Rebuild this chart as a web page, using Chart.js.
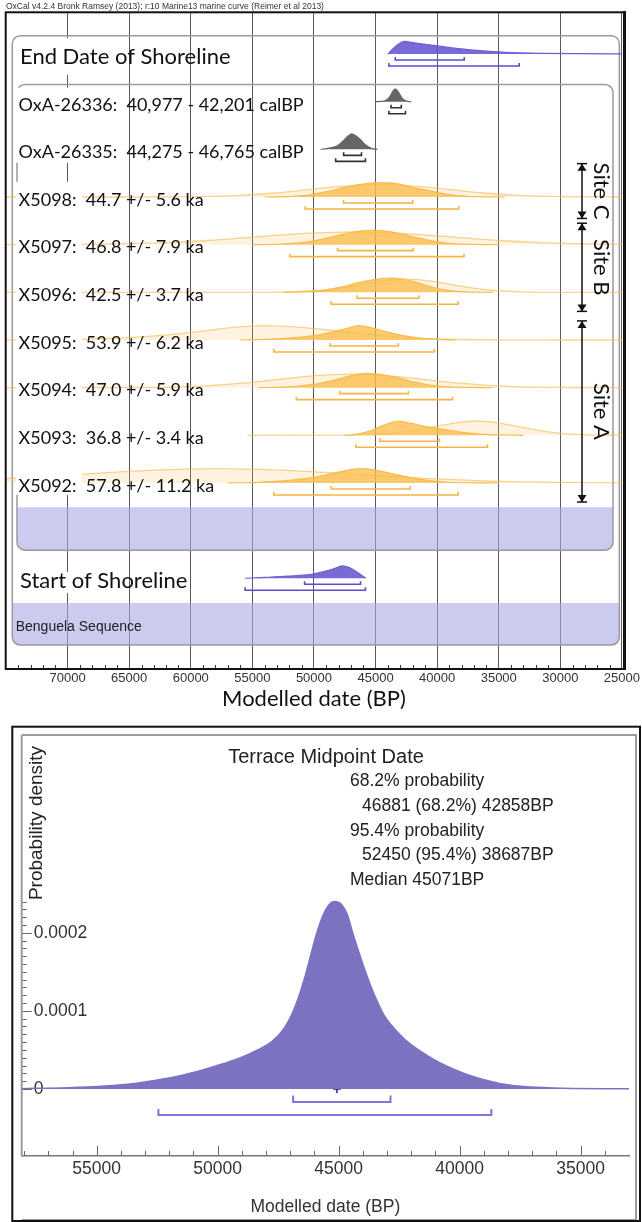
<!DOCTYPE html>
<html>
<head>
<meta charset="utf-8">
<script src="https://cdn.jsdelivr.net/npm/chart.js@4.4.1/dist/chart.umd.min.js"></script>
<style>
body{margin:0;background:#fff;width:642px;height:1222px;overflow:hidden;position:relative;}
#graficoSequencia{position:absolute;left:0;top:0;}
#graficoMidpoint{position:absolute;left:0;top:712px;}
</style>
</head>
<body>
<canvas id="graficoSequencia" width="642" height="712"></canvas>
<canvas id="graficoMidpoint" width="642" height="510"></canvas>
<script>

// ---------------- dados: sequência OxCal (anos BP, densidade relativa) ----------------

const ticksSequencia=[70000,65000,60000,55000,50000,45000,40000,35000,30000,25000];

const rotulos=[
    "End Date of Shoreline",
    "OxA-26336:  40,977 - 42,201 calBP",
    "OxA-26335:  44,275 - 46,765 calBP",
    "X5098:  44.7 +/- 5.6 ka",
    "X5097:  46.8 +/- 7.9 ka",
    "X5096:  42.5 +/- 3.7 ka",
    "X5095:  53.9 +/- 6.2 ka",
    "X5094:  47.0 +/- 5.9 ka",
    "X5093:  36.8 +/- 3.4 ka",
    "X5092:  57.8 +/- 11.2 ka",
    "Start of Shoreline"
];

const tipos=["limite","c14","c14","osl","osl","osl","osl","osl","osl","osl","limite"];

const linhas=[0,1,2,3,4,5,6,7,8,9,11];

const endDate=[[44000,0],[43600,0.35],[43100,0.72],[42600,0.88],[42000,0.8],[41000,0.68],[40000,0.57],[38800,0.43],[37300,0.3],[35800,0.18],[34000,0.1],[31500,0.05],[28500,0.025],[25000,0.01]];
const oxa26336=[[45000,0],[44300,0.04],[43900,0.28],[43600,0.72],[43400,0.89],[43150,0.68],[42850,0.25],[42500,0.05],[42100,0]];
const oxa26335=[[49450,0],[48800,0.08],[48100,0.25],[47600,0.6],[47200,0.95],[46950,1.08],[46600,0.95],[46250,0.7],[45800,0.3],[45300,0.06],[44850,0]];
const x5098=[[54000,0],[52100,0.03],[50700,0.11],[49800,0.25],[48800,0.42],[47750,0.62],[46400,0.86],[44800,1],[43400,0.95],[42100,0.7],[40700,0.45],[39400,0.22],[38400,0.1],[36600,0.02],[34500,0]];
const x5097=[[55000,0],[53000,0.03],[51300,0.12],[50000,0.27],[48500,0.55],[47000,0.85],[45400,1],[44000,0.93],[42700,0.7],[41300,0.42],[40000,0.2],[38800,0.08],[37000,0.02],[35000,0]];
const x5096=[[52500,0],[50800,0.04],[49200,0.14],[47800,0.36],[46500,0.66],[45000,0.9],[43600,1],[42500,0.88],[41300,0.6],[40100,0.3],[39000,0.12],[37600,0.03],[35500,0]];
const x5095=[[56000,0],[54000,0.04],[52000,0.13],[50000,0.3],[48500,0.55],[47300,0.82],[46400,1],[45300,0.85],[44000,0.55],[42700,0.3],[41300,0.12],[40000,0.04],[38500,0]];
const x5094=[[54500,0],[52500,0.04],[51000,0.13],[49500,0.3],[48000,0.6],[46800,0.88],[45750,1],[44500,0.92],[43200,0.68],[42000,0.42],[40700,0.2],[39500,0.08],[37500,0.02],[35500,0]];
const x5093=[[47500,0],[46500,0.08],[45300,0.35],[44200,0.75],[43150,1],[42200,0.85],[41000,0.62],[39800,0.45],[38500,0.28],[37200,0.14],[36000,0.06],[34500,0.02],[33000,0]];
const x5092=[[57000,0],[54500,0.05],[52500,0.15],[50500,0.32],[48800,0.6],[47300,0.88],[46250,1],[45000,0.9],[43500,0.62],[42000,0.35],[40500,0.15],[39000,0.05],[37000,0.01],[35000,0]];
const startDate=[[55600,0],[54000,0.06],[52100,0.15],[50100,0.3],[48800,0.55],[48000,0.78],[47750,0.86],[47300,0.8],[46800,0.6],[46200,0.25],[45800,0]];

// datas OSL sem modelo (verossimilhança)
const x5098Prior=[[75000,0],[64000,0],[61500,0.01],[58700,0.04],[56000,0.12],[53100,0.28],[50300,0.53],[47500,0.76],[44700,0.86],[41900,0.76],[39100,0.53],[36300,0.28],[33500,0.12],[30700,0.04],[27900,0.01],[25000,0]];
const x5097Prior=[[75000,0],[70500,0.01],[66500,0.04],[62600,0.12],[58600,0.29],[54700,0.55],[50700,0.79],[46800,0.9],[42900,0.79],[38900,0.55],[35000,0.29],[31000,0.12],[27100,0.04],[25000,0.02]];
const x5096Prior=[[75000,0],[53600,0],[51800,0.03],[49900,0.11],[48100,0.28],[46200,0.54],[44400,0.8],[42500,0.92],[40600,0.8],[38800,0.54],[36900,0.28],[35100,0.11],[33200,0.03],[31500,0],[25000,0]];
const x5095Prior=[[75000,0.005],[72000,0.02],[68400,0.06],[65100,0.16],[62200,0.34],[59100,0.62],[56500,0.88],[53900,1],[51000,0.88],[48000,0.62],[45000,0.34],[42000,0.15],[39000,0.05],[35500,0.01],[30000,0],[25000,0]];
const x5094Prior=[[75000,0],[64700,0.01],[61750,0.04],[58800,0.13],[55850,0.31],[52900,0.58],[49950,0.84],[47000,0.95],[44050,0.84],[41100,0.58],[38150,0.31],[35200,0.13],[32250,0.04],[29300,0.01],[25000,0]];
const x5093Prior=[[55400,0],[46900,0.01],[45300,0.04],[43600,0.13],[41900,0.32],[40200,0.6],[38500,0.87],[36800,1],[35100,0.87],[33400,0.6],[31700,0.32],[30000,0.13],[28300,0.04],[26600,0.01],[25000,0]];
const x5092Prior=[[75000,0.3],[69000,0.6],[63400,0.88],[57800,1],[52200,0.88],[46600,0.6],[41000,0.32],[35400,0.13],[29800,0.04],[25000,0.01]];

const posteriores=[endDate,oxa26336,oxa26335,x5098,x5097,x5096,x5095,x5094,x5093,x5092,startDate];
const priores=[null,null,null,x5098Prior,x5097Prior,x5096Prior,x5095Prior,x5094Prior,x5093Prior,x5092Prior,null];

const hpd68=[[43400,37800],[43750,42910],[47590,46140],[47590,41980],[48080,41940],[46490,41480],[48690,43150],[47890,42340],[44650,39810],[48600,42180],[50760,46220]];
const hpd95=[[43920,33340],[43920,42570],[48240,45820],[50700,38250],[51960,37820],[48600,38300],[53260,40240],[51430,38750],[46590,35910],[53260,38300],[55590,45820]];

const sitios=["Site C","Site B","Site A"];
const faixasSitios=[[2.3,3.45],[3.55,5.4],[5.6,9.4]];

// ---------------- dados: Terrace Midpoint Date ----------------

const ticksDatas=[55000,50000,45000,40000,35000];
const ticksDensidade=[0,0.0001,0.0002];
const rotulosDensidade=["0","0.0001","0.0002"];

// densidade em unidades de 1e-6
const densidadeMidpoint=[
    [58100,0.4],[56150,1.6],[54650,3.8],[53450,7],[52550,11],[51550,17],[50550,25],[49750,32.5],[49050,40],[48350,50],
    [47750,61],[47250,78],[46900,98],[46650,118],[46400,143],[46150,172],[45900,200],[45650,222],[45400,236],[45150,240],
    [44900,237],[44650,224],[44400,198],[44150,174],[43900,151],[43650,130],[43400,112],[43150,96],[42750,79],[42250,63],
    [41650,49],[41110,38.5],[40550,29.5],[39950,21.5],[39550,17],[38950,11.5],[38250,6.5],[37350,3],[36150,1.2],[33000,0.2]
];
const intervalo68=[46881,42858];
const intervalo95=[52450,38687];
const mediana=45071;

///////////////////////////////////////////////////////////////

const ALTURA=0.3;   // altura de um pico (1.0) em linhas

const cores={
    limite:{fill:"rgba(96,82,204,0.85)",line:"#6a5fd4",brk:"#5a4ecf"},
    c14:{fill:"rgba(80,80,80,0.88)",line:"#666",brk:"#333"},
    osl:{fill:"rgba(251,188,76,0.78)",line:"rgba(247,184,70,0.9)",brk:"#f5b446"}
};

let graficoSequencia=null;
let graficoMidpoint=null;

function colchete(ctx,a,b,yy,alt){
    ctx.beginPath();
    ctx.moveTo(a,yy-alt);
    ctx.lineTo(a,yy);
    ctx.lineTo(b,yy);
    ctx.lineTo(b,yy-alt);
    ctx.stroke();
}

function seta(ctx,x,yy,dir){
    // barra + triângulo apontando para a barra
    ctx.beginPath();
    ctx.moveTo(x-5,yy);
    ctx.lineTo(x+5,yy);
    ctx.stroke();
    ctx.beginPath();
    ctx.moveTo(x,yy);
    ctx.lineTo(x-4.5,yy+dir*7);
    ctx.lineTo(x+4.5,yy+dir*7);
    ctx.closePath();
    ctx.fill();
}

///////////////////////////////////////////////////////////////

const pluginSequencia={

    id:"sequencia",

    beforeDatasetsDraw(chart){
        const {ctx,scales:{y}}=chart;
        ctx.save();

        // faixas azuis
        ctx.fillStyle="rgba(168,168,230,0.6)";
        let t=y.getPixelForValue(9.51), b=y.getPixelForValue(10.41);
        ctx.beginPath(); ctx.roundRect(17,t,596,b-t,[0,0,7,7]); ctx.fill();
        t=y.getPixelForValue(11.52); b=y.getPixelForValue(12.4);
        ctx.beginPath(); ctx.roundRect(12.3,t,607,b-t,[0,0,7,7]); ctx.fill();

        // painéis
        ctx.strokeStyle="#9a9a9a";
        ctx.lineWidth=1.5;
        t=y.getPixelForValue(-0.385);
        ctx.beginPath(); ctx.roundRect(12.3,t,607,b-t,8); ctx.stroke();
        t=y.getPixelForValue(0.64); b=y.getPixelForValue(10.41);
        ctx.beginPath(); ctx.roundRect(17,t,596,b-t,8); ctx.stroke();

        ctx.restore();
    },

    afterDatasetsDraw(chart){
        const {ctx,scales:{x,y}}=chart;
        ctx.save();

        // caixas brancas dos rótulos
        ctx.fillStyle="#fff";
        [[-0.34,0.435],[0.707,2.28],[2.68,9.25],[10.87,11.31]].forEach(c=>{
            const t=y.getPixelForValue(c[0]);
            ctx.fillRect(16,t,66,y.getPixelForValue(c[1])-t);
        });

        // intervalos 68.2% e 95.4%
        ctx.lineWidth=1.6;
        for(let i=0;i<linhas.length;i++){
            const base=y.getPixelForValue(linhas[i]);
            ctx.strokeStyle=cores[tipos[i]].brk;
            colchete(ctx,x.getPixelForValue(hpd68[i][0]),x.getPixelForValue(hpd68[i][1]),base+6,3);
            colchete(ctx,x.getPixelForValue(hpd95[i][0]),x.getPixelForValue(hpd95[i][1]),base+12,3);
        }

        // rótulos
        ctx.fillStyle="#111";
        ctx.textBaseline="middle";
        for(let i=0;i<linhas.length;i++){
            const grande=tipos[i]==="limite";
            ctx.font=grande?"22px Lato":"18px Lato";
            ctx.fillText(rotulos[i],grande?20:18.6,y.getPixelForValue(linhas[i])+3);
        }
        ctx.font="14px 'Liberation Sans'";
        ctx.fillStyle="#222";
        ctx.fillText("Benguela Sequence",15.7,y.getPixelForValue(12.02));

        // sítios
        ctx.strokeStyle="#111";
        ctx.fillStyle="#111";
        ctx.lineWidth=1.5;
        faixasSitios.forEach((f,i)=>{
            const a=y.getPixelForValue(f[0]), b=y.getPixelForValue(f[1]);
            ctx.beginPath(); ctx.moveTo(582,a); ctx.lineTo(582,b); ctx.stroke();
            seta(ctx,582,a,1);
            seta(ctx,582,b,-1);
            ctx.save();
            ctx.translate(601,(a+b)/2);
            ctx.rotate(Math.PI/2);
            ctx.textAlign="center";
            ctx.font="22px Lato";
            ctx.fillText(sitios[i],0,0);
            ctx.restore();
        });

        ctx.restore();
    },

    afterDraw(chart){
        const {ctx,chartArea:a,scales:{x}}=chart;
        ctx.save();

        // ticks menores
        ctx.strokeStyle="#333";
        ctx.lineWidth=1;
        for(let v=26000;v<75000;v+=1000){
            if(v%5000===0) continue;
            const px=Math.round(x.getPixelForValue(v))+0.5;
            ctx.beginPath(); ctx.moveTo(px,a.bottom); ctx.lineTo(px,a.bottom-4); ctx.stroke();
        }

        // moldura
        ctx.strokeStyle="#111";
        ctx.lineWidth=2;
        ctx.strokeRect(5.7,12.3,618.6,656.7);
        ctx.lineWidth=3;
        ctx.beginPath(); ctx.moveTo(624.5,11); ctx.lineTo(624.5,670); ctx.stroke();

        ctx.fillStyle="#333";
        ctx.font="8.5px 'Liberation Sans'";
        ctx.textBaseline="middle";
        ctx.fillText("OxCal v4.2.4 Bronk Ramsey (2013); r:10 Marine13 marine curve (Reimer et al 2013)",6,6.5);

        ctx.restore();
    }

};

///////////////////////////////////////////////////////////////

function desenharGraficoSequencia(){

    const datasets=[];

    for(let i=0;i<posteriores.length;i++){
        const linha=linhas[i];
        const cor=cores[tipos[i]];
        if(priores[i]){
            datasets.push({
                data:priores[i].map(p=>({x:p[0],y:linha-p[1]*ALTURA})),
                fill:{value:linha},
                backgroundColor:"rgba(250,194,100,0.2)",
                borderColor:"rgba(247,184,72,0.6)",
                borderWidth:1.3,
                pointRadius:0,
                cubicInterpolationMode:"monotone",
                order:2
            });
        }
        datasets.push({
            data:posteriores[i].map(p=>({x:p[0],y:linha-p[1]*ALTURA})),
            fill:{value:linha},
            backgroundColor:cor.fill,
            borderColor:cor.line,
            borderWidth:1.2,
            pointRadius:0,
            cubicInterpolationMode:"monotone",
            order:1
        });
    }

    const ctx=document
        .getElementById("graficoSequencia")
        .getContext("2d");

    graficoSequencia=new Chart(ctx,{

        type:"line",

        data:{datasets},

        options:{

            responsive:false,

            animation:false,

            layout:{padding:{left:6,right:18,top:12,bottom:0}},

            plugins:{
                legend:{display:false},
                tooltip:{enabled:false}
            },

            scales:{

                x:{
                    type:"linear",
                    min:25000,
                    max:75000,
                    reverse:true,
                    afterBuildTicks:(s)=>{ s.ticks=ticksSequencia.map(v=>({value:v})); },
                    afterFit:(s)=>{ s.height=43; },
                    grid:{color:"#5a5a5a",lineWidth:1,drawTicks:false},
                    border:{display:false},
                    ticks:{
                        autoSkip:false,
                        maxRotation:0,
                        padding:2,
                        color:"#333",
                        font:{family:"'Liberation Sans'",size:13},
                        callback:(v)=>String(v)
                    },
                    title:{
                        display:true,
                        text:"Modelled date (BP)",
                        color:"#111",
                        font:{family:"Lato",size:22},
                        padding:{top:0,bottom:0}
                    }
                },

                y:{
                    type:"linear",
                    min:-0.882,
                    max:12.904,
                    reverse:true,
                    display:false
                }

            }

        },

        plugins:[pluginSequencia]

    });

}

///////////////////////////////////////////////////////////////

const pluginMidpoint={

    id:"midpoint",

    afterDatasetsDraw(chart){
        const {ctx,chartArea:a,scales:{x,y}}=chart;
        const y0=y.getPixelForValue(0);
        ctx.save();

        ctx.strokeStyle="#7d75d8";
        ctx.lineWidth=2;
        colchete(ctx,x.getPixelForValue(intervalo68[0]),x.getPixelForValue(intervalo68[1]),y0+13,6.5);
        colchete(ctx,x.getPixelForValue(intervalo95[0]),x.getPixelForValue(intervalo95[1]),y0+26,6);

        // ticks internos
        ctx.strokeStyle="#666";
        ctx.lineWidth=1;
        for(let v=34000;v<=58000;v+=1000){
            const px=Math.round(x.getPixelForValue(v))+0.5;
            const len=ticksDatas.includes(v)?10:5;
            ctx.beginPath(); ctx.moveTo(px,a.bottom); ctx.lineTo(px,a.bottom-len); ctx.stroke();
        }
        for(let k=0;k<=24;k++){
            const py=Math.round(y.getPixelForValue(k*10))+0.5;
            const len=k%10===0?10:5;
            ctx.beginPath(); ctx.moveTo(a.left,py); ctx.lineTo(a.left+len,py); ctx.stroke();
        }

        // textos
        ctx.fillStyle="#222";
        ctx.textBaseline="middle";
        ctx.textAlign="center";
        ctx.font="20px 'Liberation Sans'";
        ctx.fillText("Terrace Midpoint Date",326,45);

        ctx.textAlign="left";
        ctx.font="17.5px 'Liberation Sans'";
        ctx.fillText("68.2% probability",350,69);
        ctx.fillText(intervalo68[0]+" (68.2%) "+intervalo68[1]+"BP",362,94);
        ctx.fillText("95.4% probability",350,119);
        ctx.fillText(intervalo95[0]+" (95.4%) "+intervalo95[1]+"BP",362,143);
        ctx.fillText("Median "+mediana+"BP",350,168);

        ctx.save();
        ctx.translate(36.7,111);
        ctx.rotate(-Math.PI/2);
        ctx.textAlign="center";
        ctx.font="19px 'Liberation Sans'";
        ctx.fillText("Probability density",0,0);
        ctx.restore();

        ctx.restore();
    },

    afterDraw(chart){
        const {ctx}=chart;
        ctx.save();
        ctx.strokeStyle="#9a9a9a";
        ctx.lineWidth=2;
        ctx.beginPath();
        ctx.moveTo(21.7,23); ctx.lineTo(636,23); ctx.lineTo(636,508); ctx.lineTo(21.7,508);
        ctx.moveTo(21.7,23); ctx.lineTo(21.7,444);
        ctx.stroke();
        ctx.strokeStyle="#111";
        ctx.strokeRect(12.3,14.7,627.7,494.3);
        ctx.restore();
    }

};

///////////////////////////////////////////////////////////////

function desenharGraficoMidpoint(){

    const ctx=document
        .getElementById("graficoMidpoint")
        .getContext("2d");

    graficoMidpoint=new Chart(ctx,{

        type:"line",

        data:{

            datasets:[

                {
                    data:densidadeMidpoint.map(p=>({x:p[0],y:p[1]})),
                    fill:"origin",
                    backgroundColor:"#7b73c2",
                    borderColor:"#7b73c2",
                    borderWidth:1.5,
                    pointRadius:0,
                    cubicInterpolationMode:"monotone"
                },

                {
                    data:[{x:mediana,y:0}],
                    showLine:false,
                    pointStyle:"cross",
                    pointRadius:4,
                    borderColor:"#2e2290",
                    borderWidth:1.5
                }

            ]

        },

        options:{

            responsive:false,

            animation:false,

            layout:{padding:{left:21.7,right:13,top:28,bottom:0}},

            plugins:{
                legend:{display:false},
                tooltip:{enabled:false}
            },

            scales:{

                x:{
                    type:"linear",
                    min:33000,
                    max:58100,
                    reverse:true,
                    afterBuildTicks:(s)=>{ s.ticks=ticksDatas.map(v=>({value:v})); },
                    afterFit:(s)=>{ s.height=66; },
                    grid:{drawOnChartArea:false,drawTicks:false},
                    border:{color:"#777",width:1.5},
                    ticks:{
                        autoSkip:false,
                        maxRotation:0,
                        padding:3,
                        color:"#333",
                        font:{family:"'Liberation Sans'",size:17.5},
                        callback:(v)=>String(v)
                    },
                    title:{
                        display:true,
                        text:"Modelled date (BP)",
                        color:"#333",
                        font:{family:"'Liberation Sans'",size:17.5},
                        padding:{top:0,bottom:4}
                    }
                },

                y:{
                    type:"linear",
                    min:-85.9,
                    max:447,
                    afterBuildTicks:(s)=>{ s.ticks=ticksDensidade.map(v=>({value:v*1e6})); },
                    afterFit:(s)=>{ s.width=0; },
                    grid:{drawTicks:false,color:(c)=>(c.tick && c.tick.value===0)?"#cfcfcf":"transparent"},
                    border:{display:false},
                    ticks:{
                        mirror:true,
                        padding:12,
                        color:"#333",
                        font:{family:"'Liberation Sans'",size:17.5},
                        callback:(v,i)=>rotulosDensidade[i]
                    }
                }

            }

        },

        plugins:[pluginMidpoint]

    });

}

///////////////////////////////////////////////////////////////

desenharGraficoSequencia();

desenharGraficoMidpoint();

</script>
</body>
</html>
